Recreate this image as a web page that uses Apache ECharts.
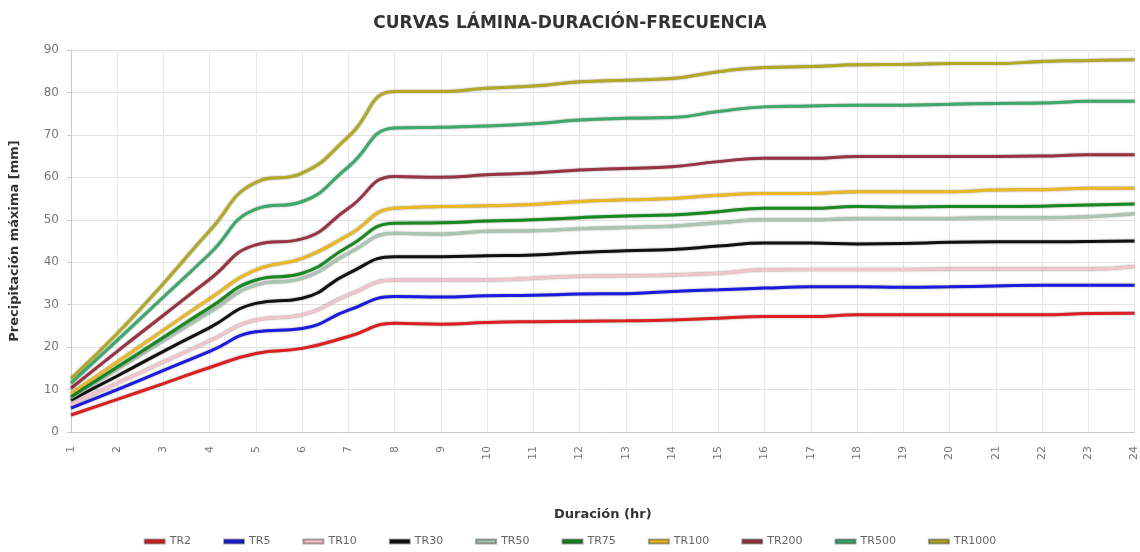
<!DOCTYPE html>
<html>
<head>
<meta charset="utf-8">
<script src="https://cdn.jsdelivr.net/npm/echarts@6/dist/echarts.min.js"></script>
<style>
    html, body {
        margin: 0;
        padding: 0;
        background: #fff;
    }
    .chart {
        width: 1140px;
        height: 552px;
    }
</style>
</head>
<body>
<div class="chart" id="chart"></div>
<script>
const durations = ['1', '2', '3', '4', '5', '6', '7', '8', '9', '10', '11', '12',
    '13', '14', '15', '16', '17', '18', '19', '20', '21', '22', '23', '24'];

const tr2 = [4.0, 7.7, 11.4, 15.2, 18.5, 19.7, 22.5, 25.6, 25.4, 25.8, 26.0, 26.1, 26.2, 26.4, 26.8, 27.2, 27.2, 27.6, 27.6, 27.6, 27.6, 27.6, 27.9, 28.0];
const tr5 = [5.6, 10.0, 14.5, 19.0, 23.6, 24.4, 28.7, 31.9, 31.8, 32.1, 32.2, 32.5, 32.6, 33.1, 33.5, 33.9, 34.2, 34.2, 34.1, 34.2, 34.4, 34.6, 34.6, 34.6];
const tr10 = [6.5, 11.5, 16.5, 21.5, 26.4, 27.6, 32.3, 35.8, 35.8, 35.8, 36.2, 36.7, 36.8, 37.0, 37.4, 38.2, 38.3, 38.3, 38.3, 38.4, 38.4, 38.4, 38.4, 39.0];
const tr30 = [7.5, 13.2, 19.0, 24.6, 30.3, 31.5, 37.4, 41.3, 41.3, 41.5, 41.7, 42.3, 42.7, 43.0, 43.8, 44.5, 44.5, 44.3, 44.4, 44.7, 44.8, 44.8, 44.9, 45.0];
const tr50 = [8.0, 14.8, 21.5, 28.2, 34.6, 36.2, 42.1, 46.8, 46.6, 47.3, 47.4, 47.9, 48.2, 48.5, 49.3, 50.0, 50.0, 50.3, 50.3, 50.3, 50.5, 50.5, 50.7, 51.4];
const tr75 = [8.3, 15.3, 22.3, 29.3, 35.8, 37.4, 43.7, 49.2, 49.3, 49.7, 50.0, 50.5, 50.9, 51.1, 51.9, 52.7, 52.7, 53.1, 53.0, 53.1, 53.1, 53.2, 53.5, 53.7];
const tr100 = [9.1, 16.5, 24.0, 31.4, 38.2, 40.9, 46.4, 52.7, 53.1, 53.3, 53.6, 54.3, 54.7, 55.0, 55.8, 56.2, 56.2, 56.6, 56.6, 56.6, 57.0, 57.1, 57.4, 57.4];
const tr200 = [10.3, 19.0, 27.5, 36.0, 44.1, 45.5, 52.7, 60.2, 60.0, 60.6, 61.0, 61.7, 62.1, 62.5, 63.7, 64.5, 64.5, 64.9, 64.9, 64.9, 64.9, 65.0, 65.3, 65.3];
const tr500 = [11.5, 21.6, 31.8, 42.0, 52.5, 54.3, 62.5, 71.6, 71.8, 72.1, 72.6, 73.5, 73.9, 74.1, 75.5, 76.6, 76.8, 77.0, 77.0, 77.2, 77.4, 77.5, 77.9, 77.9];
const tr1000 = [12.6, 23.2, 35.0, 47.4, 58.8, 61.0, 69.6, 80.2, 80.2, 81.0, 81.5, 82.5, 82.9, 83.3, 84.9, 85.9, 86.1, 86.5, 86.6, 86.8, 86.8, 87.3, 87.5, 87.7];

const seriesNames = ['TR2', 'TR5', 'TR10', 'TR30', 'TR50', 'TR75', 'TR100', 'TR200', 'TR500', 'TR1000'];
const seriesData = [tr2, tr5, tr10, tr30, tr50, tr75, tr100, tr200, tr500, tr1000];
const seriesColors = ['#dd1f1f', '#1a1ae0', '#f2c4cc', '#111111', '#aac5b2', '#168a1e', '#eab922', '#993344', '#3daa6c', '#b3a824'];

function makeSeries(name, i) {
    return {
        name: name,
        type: 'line',
        smooth: true,
        symbol: 'none',
        data: seriesData[i],
        lineStyle: {
            width: 3,
            color: seriesColors[i],
            shadowColor: 'rgba(0,0,0,0.45)',
            shadowBlur: 2
        },
        itemStyle: {
            color: seriesColors[i],
            borderColor: 'rgba(0,0,0,0.35)',
            borderWidth: 1
        }
    };
}

const chartOption = {
    animation: false,
    backgroundColor: '#fff',
    color: seriesColors,
    title: {
        text: 'CURVAS LÁMINA-DURACIÓN-FRECUENCIA',
        left: 'center',
        top: 10,
        textStyle: {
            fontFamily: 'DejaVu Sans',
            fontSize: 17,
            fontWeight: 'bold',
            color: '#333'
        }
    },
    legend: {
        data: seriesNames,
        bottom: 0,
        left: 'center',
        icon: 'rect',
        itemWidth: 20,
        itemHeight: 4,
        itemGap: 32,
        textStyle: {
            fontFamily: 'DejaVu Sans',
            fontSize: 11,
            color: '#666'
        }
    },
    grid: {
        left: 71,
        right: 0,
        top: 50,
        bottom: 120
    },
    xAxis: {
        type: 'category',
        boundaryGap: false,
        data: durations,
        name: 'Duración (hr)',
        nameLocation: 'middle',
        nameGap: 76,
        nameTextStyle: {
            fontFamily: 'DejaVu Sans',
            fontSize: 13,
            fontWeight: 'bold',
            color: '#333'
        },
        axisLine: { lineStyle: { color: '#c8c8c8' } },
        axisTick: { show: false },
        axisLabel: {
            rotate: 90,
            interval: 0,
            color: '#777',
            fontFamily: 'DejaVu Sans',
            fontSize: 11,
            margin: 14
        },
        splitLine: {
            show: true,
            lineStyle: { color: '#e8e8e8' }
        }
    },
    yAxis: {
        type: 'value',
        min: 0,
        max: 90,
        interval: 10,
        name: 'Precipitación máxima [mm]',
        nameLocation: 'middle',
        nameGap: 50,
        nameTextStyle: {
            fontFamily: 'DejaVu Sans',
            fontSize: 13,
            fontWeight: 'bold',
            color: '#333'
        },
        axisLine: { show: true, lineStyle: { color: '#c8c8c8' } },
        axisTick: { show: true, length: 4, lineStyle: { color: '#c8c8c8' } },
        axisLabel: {
            color: '#777',
            fontFamily: 'DejaVu Sans',
            fontSize: 12,
            margin: 12
        },
        splitLine: {
            lineStyle: { color: '#e2e2e2' }
        }
    },
    series: seriesNames.map(makeSeries)
};

const lineChart = echarts.init(document.getElementById('chart'));
lineChart.setOption(chartOption);
</script>
</body>
</html>
